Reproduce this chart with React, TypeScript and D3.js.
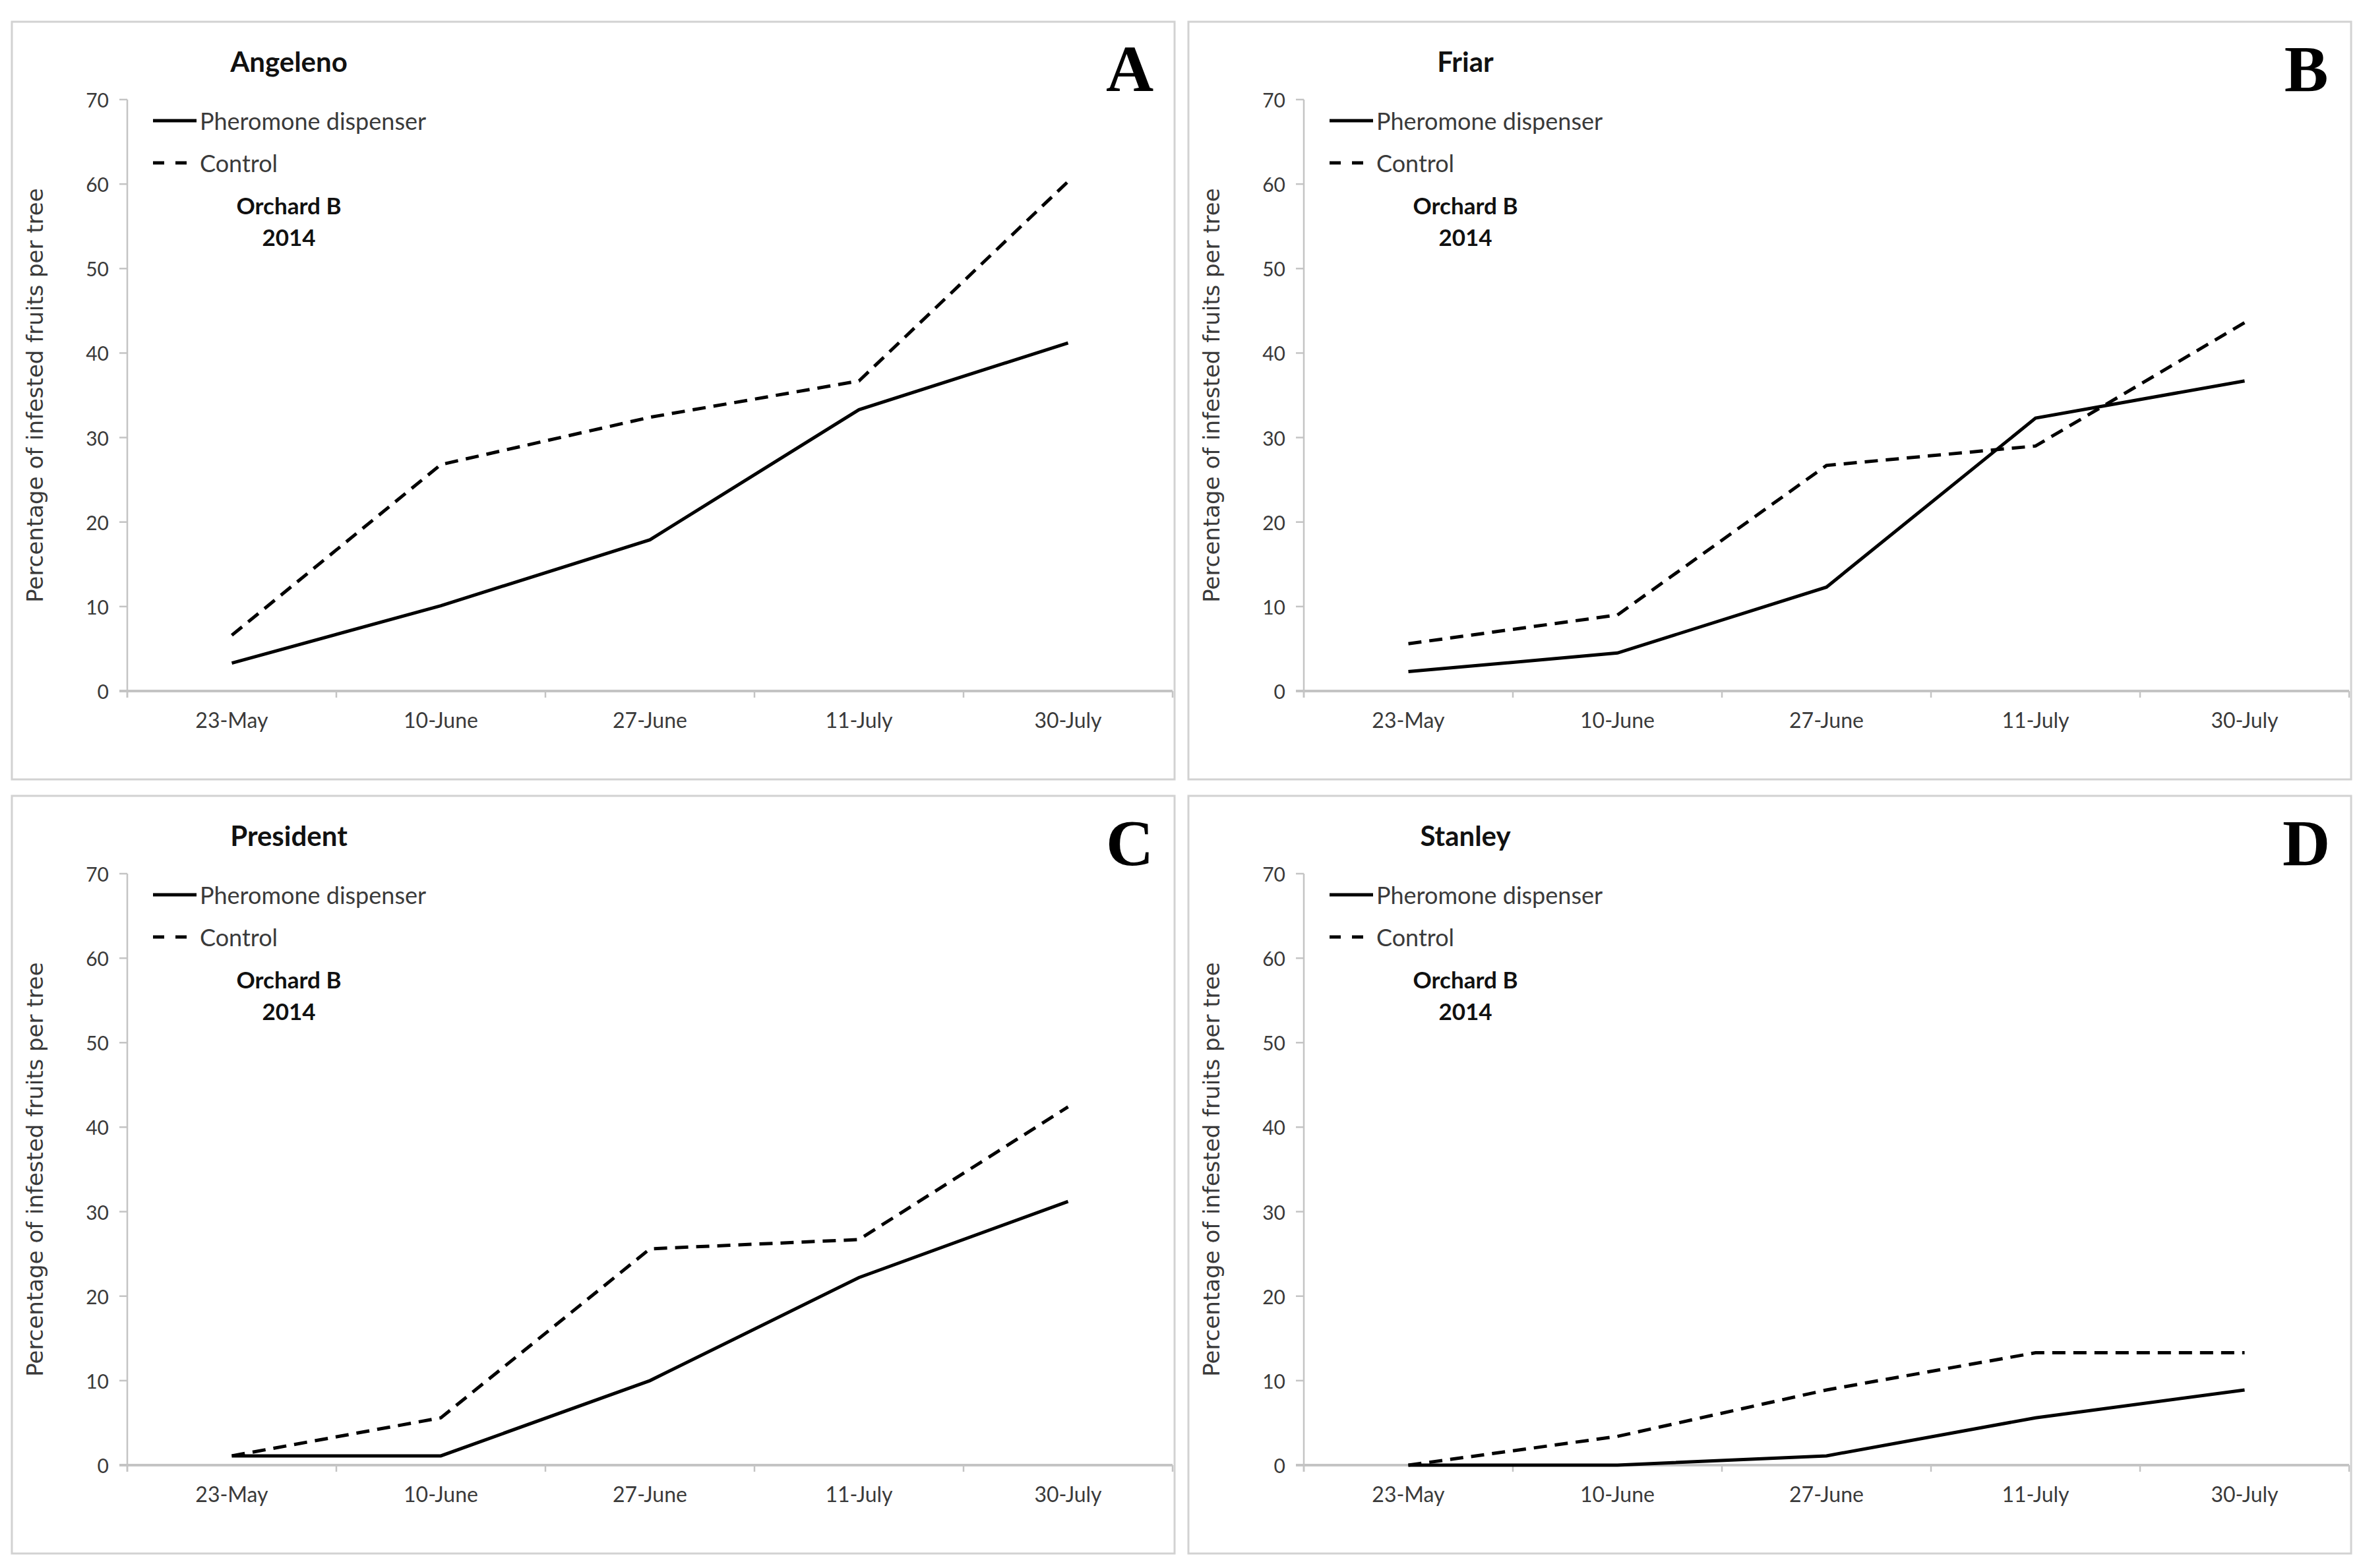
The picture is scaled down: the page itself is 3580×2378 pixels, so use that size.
import * as d3 from "d3";
import React from "react";

const W = 3580;
const H = 2378;

const dates = ["23-May", "10-June", "27-June", "11-July", "30-July"];
const yTicks = [0, 10, 20, 30, 40, 50, 60, 70];
const varieties = ["Angeleno", "Friar", "President", "Stanley"];
const letters = ["A", "B", "C", "D"];
const seriesNames = ["Pheromone dispenser", "Control"];

const angelenoPheromone = [3.3, 10.1, 17.9, 33.3, 41.2];
const angelenoControl = [6.6, 26.8, 32.4, 36.7, 60.3];
const friarPheromone = [2.3, 4.5, 12.3, 32.3, 36.7];
const friarControl = [5.6, 9.0, 26.7, 29.0, 43.6];
const presidentPheromone = [1.1, 1.1, 10.0, 22.2, 31.2];
const presidentControl = [1.1, 5.6, 25.6, 26.7, 42.4];
const stanleyPheromone = [0, 0, 1.1, 5.6, 8.9];
const stanleyControl = [0, 3.4, 8.9, 13.3, 13.3];

const pheromoneSets = [angelenoPheromone, friarPheromone, presidentPheromone, stanleyPheromone];
const controlSets = [angelenoControl, friarControl, presidentControl, stanleyControl];

// panel geometry (px)
const panelW = 1763;
const panelH = 1149;
const panelX = [18, 1802];
const panelY = [33, 1207];

const axisX = 175;
const axisEnd = 1760;
const plotTop = 118;
const plotBottom = 1015;

const sans = "Lato, 'Open Sans', sans-serif";
const textColor = "#3a3a3a";
const axisColor = "#c4c4c4";

const Panel: React.FC<{
  x: number;
  y: number;
  title: string;
  letter: string;
  pher: number[];
  ctrl: number[];
}> = ({ x, y, title, letter, pher, ctrl }) => {
  const xScale = d3.scaleBand<string>().domain(dates).range([axisX, axisEnd]).padding(0);
  const yScale = d3.scaleLinear().domain([0, 70]).range([plotBottom, plotTop]);
  const cx = (d: string) => xScale(d)! + xScale.bandwidth() / 2;

  const lineGen = d3
    .line<number>()
    .x((_, i) => cx(dates[i]))
    .y((v) => yScale(v));

  const boundaries = dates.map((d) => xScale(d)!).concat([axisEnd]);

  return (
    <g transform={`translate(${x},${y})`}>
      <rect x={0} y={0} width={panelW} height={panelH} fill="#fff" stroke="#d2d2d2" strokeWidth={3} />

      {/* y axis */}
      <line x1={axisX} x2={axisX} y1={yScale(70)} y2={yScale(0) + 10} stroke={axisColor} strokeWidth={2.5} />
      {yTicks.map((t) => (
        <g key={t}>
          <line x1={axisX - 12} x2={axisX} y1={yScale(t)} y2={yScale(t)} stroke={axisColor} strokeWidth={2.5} />
          <text
            x={axisX - 28}
            y={yScale(t)}
            textAnchor="end"
            dominantBaseline="central"
            fontFamily={sans}
            fontSize={30}
            fill={textColor}
          >
            {t}
          </text>
        </g>
      ))}

      {/* x axis */}
      <line x1={axisX - 12} x2={axisEnd} y1={yScale(0)} y2={yScale(0)} stroke={axisColor} strokeWidth={4} />
      {boundaries.map((b, i) => (
        <line key={i} x1={b} x2={b} y1={yScale(0)} y2={yScale(0) + 10} stroke={axisColor} strokeWidth={2.5} />
      ))}
      {dates.map((d) => (
        <text key={d} x={cx(d)} y={1071} textAnchor="middle" fontFamily={sans} fontSize={32} fill={textColor}>
          {d}
        </text>
      ))}

      {/* y axis title */}
      <text
        transform={`translate(47,${(plotTop + plotBottom) / 2}) rotate(-90)`}
        textAnchor="middle"
        fontFamily="'DejaVu Sans', Verdana, sans-serif"
        fontSize={34}
        fill={textColor}
      >
        Percentage of infested fruits per tree
      </text>

      {/* series */}
      <path d={lineGen(ctrl)!} fill="none" stroke="#000" strokeWidth={5} strokeDasharray="20 12" />
      <path d={lineGen(pher)!} fill="none" stroke="#000" strokeWidth={5} />

      {/* legend */}
      <line x1={214} x2={280} y1={150} y2={150} stroke="#000" strokeWidth={5} />
      <text x={285} y={150} dominantBaseline="central" fontFamily={sans} fontSize={36} fill={textColor}>
        {seriesNames[0]}
      </text>
      <line x1={214} x2={266} y1={214} y2={214} stroke="#000" strokeWidth={5} strokeDasharray="17 17" />
      <text x={285} y={214} dominantBaseline="central" fontFamily={sans} fontSize={36} fill={textColor}>
        {seriesNames[1]}
      </text>

      {/* titles */}
      <text x={420} y={76} textAnchor="middle" fontFamily={sans} fontWeight={700} fontSize={42} fill="#111">
        {title}
      </text>
      <text x={420} y={292} textAnchor="middle" fontFamily={sans} fontWeight={700} fontSize={35} fill="#111">
        Orchard B
      </text>
      <text x={420} y={340} textAnchor="middle" fontFamily={sans} fontWeight={700} fontSize={35} fill="#111">
        2014
      </text>
      <text
        x={1695}
        y={105}
        textAnchor="middle"
        fontFamily="'Liberation Serif', 'Times New Roman', serif"
        fontWeight={700}
        fontSize={100}
        fill="#000"
      >
        {letter}
      </text>
    </g>
  );
};

export default function App() {
  return (
    <svg
      width={W}
      height={H}
      style={{ position: "absolute", left: 0, top: 0, background: "#fff" }}
    >
      <rect width={W} height={H} fill="#fff" />
      {varieties.map((v, i) => (
        <Panel
          key={v}
          x={panelX[i % 2]}
          y={panelY[Math.floor(i / 2)]}
          title={v}
          letter={letters[i]}
          pher={pheromoneSets[i]}
          ctrl={controlSets[i]}
        />
      ))}
    </svg>
  );
}
